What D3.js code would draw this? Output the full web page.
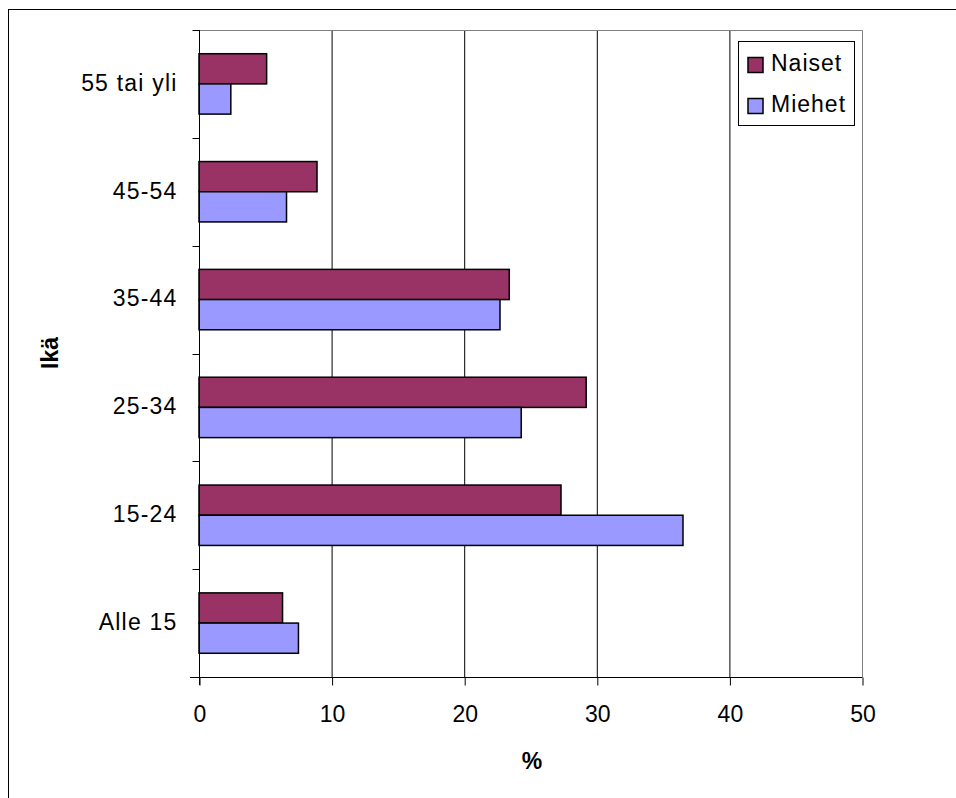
<!DOCTYPE html>
<html><head><meta charset="utf-8">
<script src="https://cdn.jsdelivr.net/npm/d3@7"></script>
<style>body{margin:0;background:#fff}svg{display:block}text{font-family:"Liberation Sans",Arial,sans-serif}</style>
</head><body>
<svg id="c" width="956" height="798"></svg>
<script>
const categories = ["55 tai yli","45-54","35-44","25-34","15-24","Alle 15"];
const naiset = [5.1, 8.9, 23.4, 29.2, 27.3, 6.3];
const miehet = [2.4, 6.6, 22.7, 24.3, 36.5, 7.5];
const seriesNames = ["Naiset","Miehet"];
const seriesColors = ["#993366","#9999FF"];
const xTicks = [0,10,20,30,40,50];

const svg = d3.select("#c");
svg.append("rect").attr("x",8.5).attr("y",9.5).attr("width",960).attr("height",800)
  .attr("fill","#fff").attr("stroke","#000").attr("stroke-width",1);

const L=199, R=862, T=30, B=677;
const x = d3.scaleLinear().domain([0,50]).range([L,R]);
const y = d3.scaleBand().domain(categories).range([T,B]).paddingInner(0.44).paddingOuter(0.22);
const sub = d3.scaleBand().domain(seriesNames).range([0,y.bandwidth()]);

// gridlines
svg.append("g").selectAll("line").data(xTicks.slice(1,-1)).join("line")
  .attr("x1",d=>x(d)+0.5).attr("x2",d=>x(d)+0.5).attr("y1",T).attr("y2",B)
  .attr("stroke","#000").attr("stroke-width",1);
// plot border top/right gray
svg.append("path").attr("d",`M${L},${T+0.5}H${R+0.5}V${B}`).attr("fill","none").attr("stroke","#808080");

// bars
const data = categories.map((c,i)=>({c, vals:[naiset[i],miehet[i]]}));
const g = svg.append("g");
data.forEach(d=>{
  d.vals.forEach((v,j)=>{
    g.append("rect").attr("x",x(0)).attr("y",y(d.c)+sub(seriesNames[j]))
      .attr("width",x(v)-x(0)).attr("height",sub.bandwidth())
      .attr("fill",seriesColors[j]).attr("stroke","#000").attr("stroke-width",1.5);
  });
});

// x axis
const xa = svg.append("g").attr("transform",`translate(0.5,${B+0.5})`)
  .call(d3.axisBottom(x).tickValues(xTicks).tickSize(8));
xa.select(".domain").attr("d",`M${190-0.5},0H${R}`);
xa.selectAll("text").attr("font-size",23).attr("fill","#000").attr("font-family","Liberation Sans, Arial")
  .attr("y",44.5).attr("dy",0);
xa.selectAll("line").attr("stroke","#000");
// y axis
const ya = svg.append("g").attr("transform",`translate(${L+0.5},0)`);
ya.append("line").attr("x1",0).attr("x2",0).attr("y1",T).attr("y2",B+8).attr("stroke","#000");
const yTickPos = d3.range(categories.length+1).map(i=>T+(B-T)*i/categories.length);
ya.selectAll(".tk").data(yTickPos).join("line").attr("class","tk")
  .attr("x1",-7).attr("x2",0).attr("y1",d=>Math.round(d)+0.5).attr("y2",d=>Math.round(d)+0.5).attr("stroke","#000");
ya.selectAll("text").data(categories).join("text")
  .attr("x",-22).attr("y",d=>y(d)+y.bandwidth()/2).attr("dy","0.3em")
  .attr("text-anchor","end").attr("font-size",23).attr("letter-spacing","1.2px").attr("fill","#000").text(d=>d);

// axis titles
svg.append("text").attr("x",532).attr("y",769).attr("text-anchor","middle")
  .attr("font-size",23).attr("font-weight","bold").text("%");
svg.append("text").attr("transform","translate(58,353) rotate(-90)").attr("text-anchor","middle")
  .attr("font-size",23).attr("font-weight","bold").text("Ikä");

// legend
const lg = svg.append("g");
lg.append("rect").attr("x",738.5).attr("y",41.5).attr("width",116).attr("height",84)
  .attr("fill","#fff").attr("stroke","#000");
seriesNames.forEach((s,i)=>{
  const yy = 57 + i*41;
  lg.append("rect").attr("x",748).attr("y",yy+0.5).attr("width",15).attr("height",15)
    .attr("fill",seriesColors[i]).attr("stroke","#000").attr("stroke-width",1.5);
  lg.append("text").attr("x",771).attr("y",71 + i*40.5).attr("font-size",23).attr("letter-spacing","1px").text(s);
});
</script>
</body></html>
